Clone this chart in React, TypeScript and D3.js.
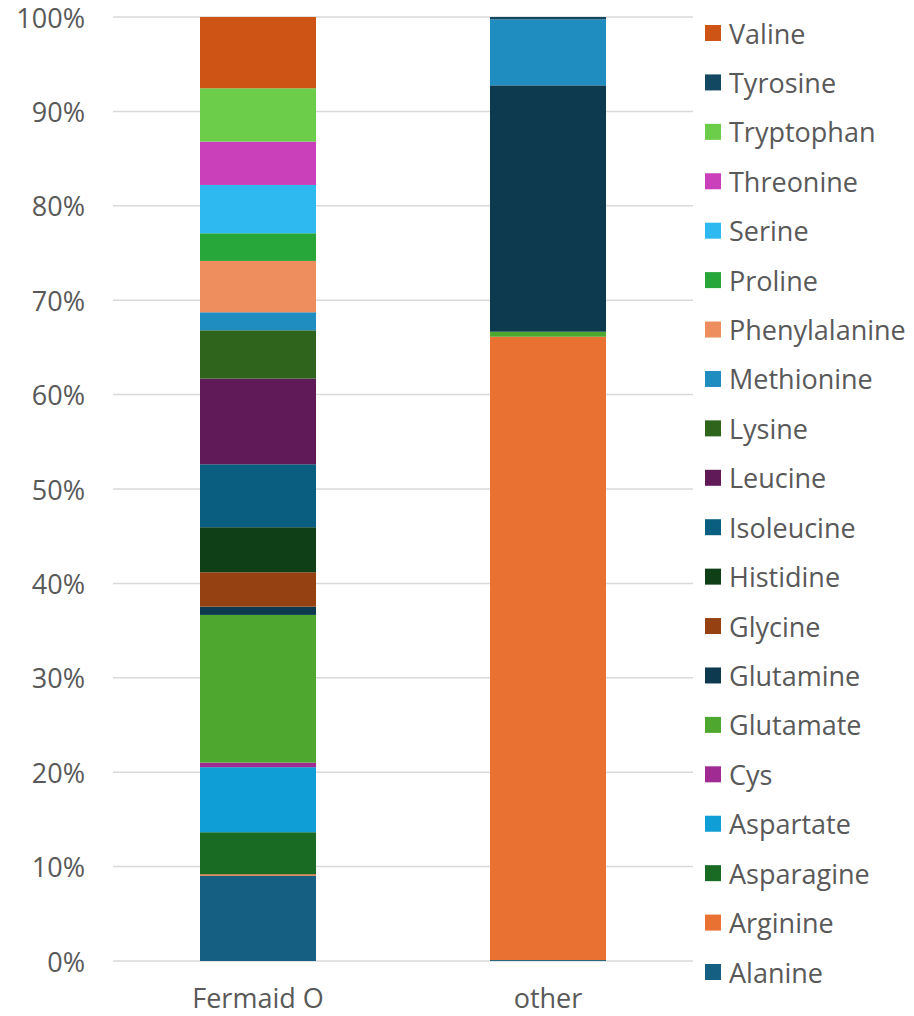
import * as React from "react";
import * as d3 from "d3";

const categories = ["Fermaid O", "other"];

// bottom to top stacking order
const seriesNames = [
  "Alanine",
  "Arginine",
  "Asparagine",
  "Aspartate",
  "Cys",
  "Glutamate",
  "Glutamine",
  "Glycine",
  "Histidine",
  "Isoleucine",
  "Leucine",
  "Lysine",
  "Methionine",
  "Phenylalanine",
  "Proline",
  "Serine",
  "Threonine",
  "Tryptophan",
  "Tyrosine",
  "Valine",
];

// percent share per category [Fermaid O, other]
const fermaidValues = [
  9.04, 0.15, 4.45, 6.89, 0.49, 15.64, 0.88, 3.64, 4.77, 6.67, 9.07, 5.12, 1.91, 5.44,
  2.93, 5.12, 4.59, 5.65, 0, 7.55,
];
const otherValues = [
  0.1, 66.03, 0, 0, 0, 0.53, 26.1, 0, 0, 0, 0, 0, 6.99, 0, 0, 0, 0, 0, 0.25, 0,
];

const seriesColors = [
  "#156082",
  "#E97132",
  "#196B24",
  "#0F9ED5",
  "#A02B93",
  "#4EA72E",
  "#0E3A4F",
  "#964112",
  "#0F3F16",
  "#0A5E7F",
  "#601A58",
  "#2F641C",
  "#208DC1",
  "#EE8D5E",
  "#27A739",
  "#2EBAF0",
  "#CA3FBA",
  "#6BCD49",
  "#124861",
  "#CD5414",
];

const yTicks = [0, 0.1, 0.2, 0.3, 0.4, 0.5, 0.6, 0.7, 0.8, 0.9, 1];

const W = 914;
const H = 1016;
const FONT = "'Open Sans', sans-serif";
const TEXT = "#595959";
const FS = 27;

export default function App() {
  const plotLeft = 113;
  const plotRight = 693;
  const plotTop = 17;
  const plotBottom = 961;

  const table = categories.map((c, i) => {
    const row: Record<string, any> = { category: c };
    seriesNames.forEach((s, j) => {
      row[s] = i === 0 ? fermaidValues[j] : otherValues[j];
    });
    return row;
  });

  const stacked = d3
    .stack<any>()
    .keys(seriesNames)
    .offset(d3.stackOffsetExpand)(table);

  const xScale = d3
    .scaleBand()
    .domain(categories)
    .range([plotLeft, plotRight])
    .paddingInner(0.6)
    .paddingOuter(0.3);

  const yScale = d3.scaleLinear().domain([0, 1]).range([plotBottom, plotTop]);

  const color = d3.scaleOrdinal<string>().domain(seriesNames).range(seriesColors);

  const legendNames = [...seriesNames].reverse();
  const legendY = d3
    .scalePoint()
    .domain(legendNames)
    .range([33, 972]);

  return (
    <svg
      width={W}
      height={H}
      style={{ position: "absolute", left: 0, top: 0, background: "#fff" }}
    >
      {/* gridlines */}
      {yTicks.map((t) => (
        <line
          key={t}
          x1={plotLeft}
          x2={plotRight}
          y1={yScale(t)}
          y2={yScale(t)}
          stroke="#d9d9d9"
          strokeWidth={1.5}
        />
      ))}
      {yTicks.map((t) => (
        <text
          key={"l" + t}
          x={85}
          y={yScale(t)}
          textAnchor="end"
          dominantBaseline="central"
          fontFamily={FONT}
          fontSize={FS}
          fill={TEXT}
        >
          {d3.format(".0%")(t)}
        </text>
      ))}

      {/* bars */}
      {stacked.map((layer) => (
        <g key={layer.key} fill={color(layer.key)}>
          {layer.map((d, i) => {
            const h = yScale(d[0]) - yScale(d[1]);
            if (h <= 0) return null;
            return (
              <rect
                key={i}
                x={xScale(categories[i])}
                y={yScale(d[1])}
                width={xScale.bandwidth()}
                height={h}
              />
            );
          })}
        </g>
      ))}

      {/* category labels */}
      {categories.map((c) => (
        <text
          key={c}
          x={(xScale(c) ?? 0) + xScale.bandwidth() / 2}
          y={1008}
          textAnchor="middle"
          fontFamily={FONT}
          fontSize={FS}
          fill={TEXT}
        >
          {c}
        </text>
      ))}

      {/* legend */}
      {legendNames.map((s) => (
        <g key={s} transform={`translate(705, ${legendY(s)})`}>
          <rect x={0} y={-8} width={16} height={16} fill={color(s)} />
          <text
            x={24}
            y={0}
            dominantBaseline="central"
            fontFamily={FONT}
            fontSize={FS}
            fill={TEXT}
          >
            {s}
          </text>
        </g>
      ))}
    </svg>
  );
}
